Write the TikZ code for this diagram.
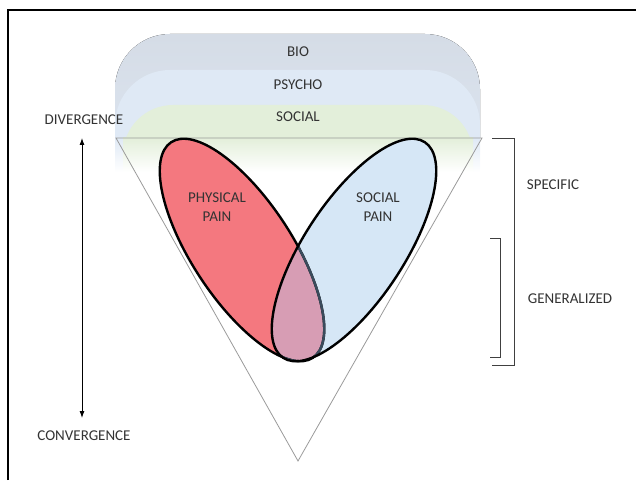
\documentclass[tikz,border=0pt]{standalone}
\usepackage{fontspec}
\setmainfont{Carlito}
\usepackage{tikz}
\usetikzlibrary{arrows.meta,positioning,calc}
\definecolor{ink}{HTML}{333333}
\definecolor{greyLine}{HTML}{9A9A9A}
\definecolor{brkC}{HTML}{404040}
\definecolor{bioC}{HTML}{D5DCE6}
\definecolor{psyC}{HTML}{DFE9F5}
\definecolor{socC}{HTML}{E3EFDA}
\definecolor{physC}{HTML}{F4787F}
\definecolor{spainC}{HTML}{D6E7F6}
\definecolor{mixC}{HTML}{D79DB4}
\definecolor{edgeC}{HTML}{3A4B5C}
\tikzset{>={Latex[length=7pt,width=5pt]},
  laylab/.style={font=\fontsize{15}{18}\selectfont,text=ink,align=center},
  sidelab/.style={font=\fontsize{15}{18}\selectfont,text=ink,align=center},
  painlab/.style={font=\fontsize{15}{19}\selectfont,text=ink,align=center},
  brk/.style={draw=brkC,line width=0.9pt},
  loop/.style={line width=2.4pt,draw=black}}
\begin{document}
\begin{tikzpicture}[x=1pt,y=1pt]
\useasboundingbox (0,0) rectangle (636,480);
\draw[black,line width=1.2pt] (8,0) -- (8,470) -- (636,470);
% bio / psycho / social bands
\fill[top color=bioC,bottom color=bioC!45!psyC] (115,342) -- (115,391) arc[start angle=180,end angle=90,radius=55]
  -- (425,446) arc[start angle=90,end angle=0,radius=55] -- (480,342) -- cycle;
\fill[psyC] (115,342) -- (115,355) arc[start angle=180,end angle=90,radius=55]
  -- (425,410) arc[start angle=90,end angle=0,radius=55] -- (480,342) -- cycle;
\fill[socC] (123,342) -- (123,325) arc[start angle=180,end angle=90,radius=50]
  -- (423,375) arc[start angle=90,end angle=0,radius=50] -- (473,342) -- cycle;
\fill[top color=psyC,bottom color=white] (115,342) rectangle (480,308);
\fill[top color=socC,bottom color=white] (123,342) rectangle (473,308);
\node[laylab] (bio) at (298,428) {BIO};
\node[laylab] (psycho) at (298,395) {PSYCHO};
\node[laylab] (social) at (298,363) {SOCIAL};
\draw[greyLine,line width=0.8pt] (116,342) -- (482,342) -- (298,19) -- cycle;
% pain ellipses
\fill[physC,rotate around={-56.7:(242,230)}] (242,230) ellipse [x radius=129,y radius=50];
\fill[spainC,rotate around={56.7:(354,230)}] (354,230) ellipse [x radius=129,y radius=50];
\begin{scope}
\clip[rotate around={-56.7:(242,230)}] (242,230) ellipse [x radius=129,y radius=50];
\fill[mixC,rotate around={56.7:(354,230)}] (354,230) ellipse [x radius=129,y radius=50];
\end{scope}
\draw[loop,rotate around={-56.7:(242,230)}] (242,230) ellipse [x radius=129,y radius=50];
\begin{scope}
\clip[rotate around={56.7:(354,230)}] (354,230) ellipse [x radius=129,y radius=50];
\draw[loop,draw=edgeC,rotate around={-56.7:(242,230)}] (242,230) ellipse [x radius=129,y radius=50];
\end{scope}
\draw[loop,rotate around={56.7:(354,230)}] (354,230) ellipse [x radius=129,y radius=50];
\node[painlab] (phys) at (217,273) {PHYSICAL\\PAIN};
\node[painlab] (spain) at (378,273) {SOCIAL\\PAIN};
% divergence axis
\node[sidelab] (div) at (84,360) {DIVERGENCE};
\node[sidelab] (conv) at (84,44) {CONVERGENCE};
\coordinate (axTop) at (82,342);
\coordinate (axBot) at (82,62);
\draw[<->,black,line width=0.9pt] (axTop) -- (axBot);
% brackets
\draw[brk] (492,342) -- (514,342) -- (514,115) -- (492,115);
\draw[brk] (490,242) -- (500,242) -- (500,123) -- (490,123);
\node[sidelab] (spec) at (553,295) {SPECIFIC};
\node[sidelab] (gen) at (570,181) {GENERALIZED};
\end{tikzpicture}
\end{document}
